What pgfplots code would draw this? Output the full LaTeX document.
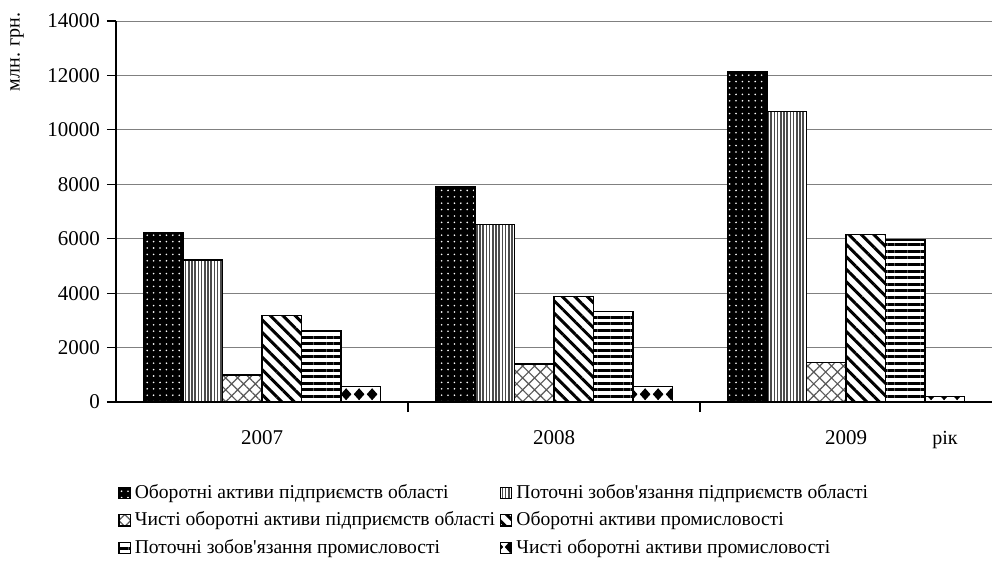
\documentclass[border=0pt]{standalone}
\usepackage{fontspec}
\setmainfont{Liberation Serif}[Ligatures=TeXOff]
\usepackage{pgfplots}
\pgfplotsset{compat=1.18}
\usetikzlibrary{patterns.meta}

% row of black diamonds for the last series
\tikzdeclarepattern{
  name=diamondrow, type=uncolored,
  bounding box={(0pt,0pt) and (6.3pt,7pt)},
  tile size={(6.3pt,7pt)},
  code={\fill (3.15pt,0.4pt) -- (5.9pt,3.5pt) -- (3.15pt,6.6pt) -- (0.4pt,3.5pt) -- cycle;}
}

\pgfplotstableread{
x s1 s2 s3 s4 s5 s6
0 6220 5220 990 3170 2610 560
1 7910 6530 1400 3870 3320 560
2 12130 10670 1450 6160 5950 200
}\data

\begin{document}
\fontsize{10}{12}\selectfont
\begin{tikzpicture}
\useasboundingbox (-58pt,-83pt) rectangle (439pt,201pt);
\begin{axis}[
  at={(0,0)}, anchor=south west,
  scale only axis, width=438pt, height=190.5pt,
  xmin=-0.5, xmax=2.5, ymin=0, ymax=14000,
  ytick distance=2000,
  scaled y ticks=false,
  /pgf/number format/.cd, 1000 sep={}, assume math mode=true, /pgfplots/.cd,
  axis x line*=bottom, axis y line*=left,
  axis line style={black, line width=0.6pt},
  ymajorgrids, grid style={gray, line width=0.5pt},
  xtick={0,1,2}, xticklabels={2007,2008,2009},
  major x tick style={draw=none},
  extra x ticks={0.5,1.5},
  extra x tick labels={},
  extra x tick style={grid=none, major tick length=5pt, tick align=outside,
    major x tick style={draw=black, line width=0.6pt}},
  ytick align=outside, major tick length=4.5pt,
  tick style={black, line width=0.6pt},
  xticklabel style={yshift=-6pt},
  ticklabel style={font=\fontsize{10.5}{12}\selectfont},
  ybar=0pt, bar width=19.75pt,
  every axis plot/.append style={draw=black, line width=0.7pt},
  legend columns=2,
  legend cell align=left,
  legend style={at={(0,0)}, anchor=north west, xshift=-2pt, yshift=-37pt,
    draw=none, fill=none, font=\fontsize{9.8}{12}\selectfont,
    row sep=1.2pt,
    /tikz/every even column/.append style={column sep=0.5pt}},
  legend image code/.code={\draw[#1, line width=0.6pt] (0pt,-2.8pt) rectangle (5.6pt,2.8pt);},
]
\addplot[fill=black, postaction={pattern={Dots[distance=3.2pt, radius=0.45pt]}, pattern color=white}]
  table[x=x, y=s1] {\data};
\addplot[fill=white, postaction={pattern={Lines[angle=90, distance=1.6pt, line width=0.8pt]}, pattern color=black!70}]
  table[x=x, y=s2] {\data};
\addplot[fill=white, postaction={pattern={Hatch[angle=45, distance=4.2pt, line width=0.6pt]}, pattern color=black!65}]
  table[x=x, y=s3] {\data};
\addplot[fill=white, postaction={pattern={Lines[angle=-45, distance=4.4pt, line width=1.5pt]}, pattern color=black}]
  table[x=x, y=s4] {\data};
\addplot[fill=white, postaction={pattern={Lines[angle=0, distance=3.3pt, line width=1.5pt]}, pattern color=black}]
  table[x=x, y=s5] {\data};
\addplot[fill=white, postaction={pattern=diamondrow, pattern color=black}]
  table[x=x, y=s6] {\data};
\legend{Оборотні активи підприємств області,
  Поточні зобов'язання підприємств області,
  Чисті оборотні активи підприємств області,
  Оборотні активи промисловості,
  Поточні зобов'язання промисловості,
  Чисті оборотні активи промисловості}
\end{axis}
\node[rotate=90, anchor=east, inner sep=0pt] at (-49.5pt,195pt) {млн. грн.};
\node[inner sep=0pt] at (414.5pt,-19pt) {рік};
\end{tikzpicture}
\end{document}
